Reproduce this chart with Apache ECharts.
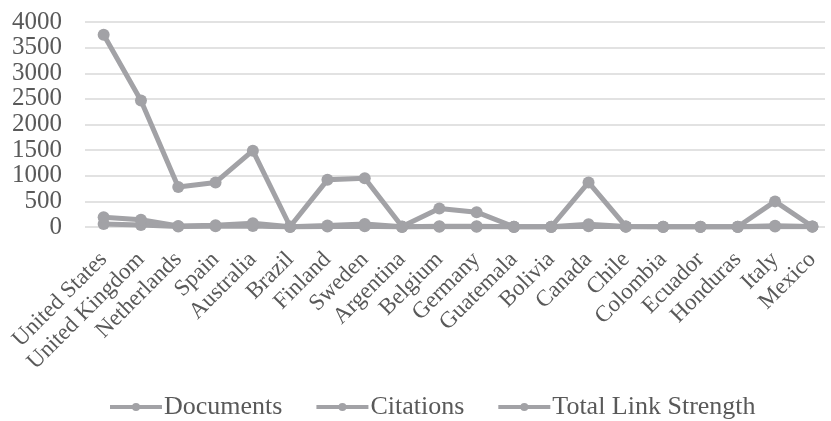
<!DOCTYPE html>
<html>
<head>
<meta charset="utf-8">
<script src="https://cdn.jsdelivr.net/npm/echarts@6/dist/echarts.min.js"></script>
<style>
  html, body { margin: 0; padding: 0; background: #ffffff; }
  #chart { width: 831px; height: 421px; }
</style>
</head>
<body>
<div id="chart"></div>
<script>
// Countries along the horizontal axis
const countries = ['United States', 'United Kingdom', 'Netherlands', 'Spain', 'Australia', 'Brazil',
  'Finland', 'Sweden', 'Argentina', 'Belgium', 'Germany', 'Guatemala', 'Bolivia', 'Canada',
  'Chile', 'Colombia', 'Ecuador', 'Honduras', 'Italy', 'Mexico'];

// Per-country metrics
const documents = [190, 140, 20, 35, 75, 5, 30, 60, 5, 15, 15, 5, 5, 55, 10, 5, 5, 5, 25, 10];
const citations = [3750, 2470, 780, 870, 1490, 10, 920, 950, 10, 360, 290, 5, 5, 870, 10, 5, 5, 5, 500, 10];
const totalLinkStrength = [60, 40, 10, 15, 20, 2, 10, 15, 2, 5, 5, 2, 2, 15, 3, 2, 2, 2, 10, 3];

// Value axis ticks
const yMin = 0, yMax = 4000, yStep = 500;

const grey = '#a2a2a6';
const textColor = '#595959';
const font = 'Liberation Serif';

function lineSeries(name, values) {
  return {
    name: name,
    type: 'line',
    data: values,
    xAxisIndex: 0,
    yAxisIndex: 0,
    symbol: 'circle',
    symbolSize: 12,
    lineStyle: { color: grey, width: 5 },
    itemStyle: { color: grey },
    emphasis: { disabled: true },
    animation: false
  };
}

const chart = echarts.init(document.getElementById('chart'), null, { renderer: 'canvas' });
chart.setOption({
  backgroundColor: '#ffffff',
  animation: false,
  grid: [
    { left: 85, top: 22, width: 748, bottom: 194 },
    { left: 85, top: 22, right: 6, bottom: 194 }
  ],
  xAxis: [
    {
      type: 'category',
      gridIndex: 0,
      data: countries,
      boundaryGap: true,
      axisLine: { show: false },
      axisTick: { show: false },
      axisLabel: {
        interval: 0,
        rotate: 45,
        margin: 29,
        color: textColor,
        fontFamily: font,
        fontSize: 23
      }
    },
    { type: 'value', gridIndex: 1, show: false, min: 0, max: 1 }
  ],
  yAxis: [
    {
      type: 'value',
      gridIndex: 0,
      min: yMin, max: yMax, interval: yStep,
      axisLine: { show: false },
      axisTick: { show: false },
      splitLine: { show: false },
      axisLabel: {
        margin: 23,
        color: textColor,
        fontFamily: font,
        fontSize: 25,
        formatter: function (v) { return String(v); }
      }
    },
    {
      type: 'value',
      gridIndex: 1,
      min: yMin, max: yMax, interval: yStep,
      axisLine: { show: false },
      axisTick: { show: false },
      axisLabel: { show: false },
      splitLine: { show: true, lineStyle: { color: '#d9d9d9', width: 1.5 } }
    }
  ],
  legend: {
    top: 394,
    left: 108,
    padding: 0,
    itemGap: 32,
    itemWidth: 52,
    itemHeight: 10,
    textStyle: { color: textColor, fontFamily: font, fontSize: 26, padding: [0, 0, 0, -3] },
    lineStyle: { width: 4 },
    data: ['Documents', 'Citations', 'Total Link Strength']
  },
  series: [
    lineSeries('Total Link Strength', totalLinkStrength),
    lineSeries('Documents', documents),
    lineSeries('Citations', citations)
  ]
});
</script>
</body>
</html>
